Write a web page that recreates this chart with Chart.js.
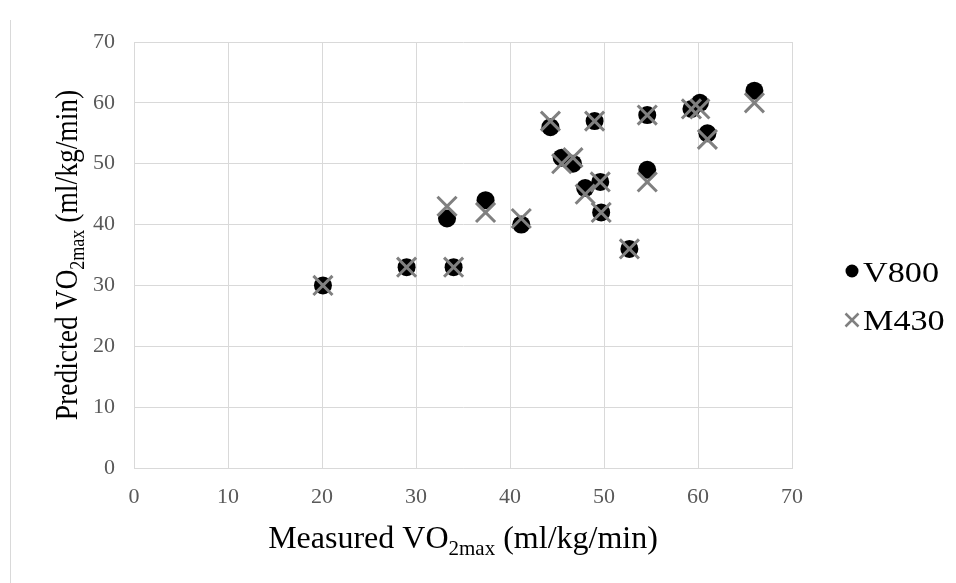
<!DOCTYPE html>
<html>
<head>
<meta charset="utf-8">
<script src="https://cdn.jsdelivr.net/npm/chart.js@4.4.0/dist/chart.umd.min.js"></script>
<style>
  html, body { margin: 0; padding: 0; background: #fff; }
  #wrap { position: relative; width: 956px; height: 583px; }
  #frame { position: absolute; left: 10px; top: 20px; width: 1px; height: 563px; background: #d9d9d9; }
  canvas { position: absolute; left: 0; top: 0; }
</style>
</head>
<body>
<div id="wrap">
  <div id="frame"></div>
  <canvas id="chart" width="956" height="583"></canvas>
</div>
<script>
// Measured VO2max vs predicted, two devices
const measured = [20.1, 29.0, 34.0, 33.3, 37.4, 41.2, 44.3, 45.5, 46.7, 48.0, 49.0, 49.6, 49.7, 52.7, 54.6, 54.6, 59.3, 60.2, 61.0, 66.0];
const v800     = [30, 33, 33, 41, 44, 40, 56, 51, 50, 46, 57, 47, 42, 36, 58, 49, 59, 60, 55, 62];
const m430     = [30, 33, 33, 43, 42, 41, 57, 50, 51, 45, 57, 47, 42, 36, 58, 47, 59, 59, 54, 60];
const seriesNames = ['V800', 'M430'];

const SERIF = "'Liberation Serif', 'Times New Roman', serif";
const GRID = '#d9d9d9';
const GREY_X = '#808080';

const toPoints = ys => ys.map((y, i) => ({ x: measured[i], y }));

// text with subscript pieces, centred on (0,0) of current transform
function drawParts(ctx, parts) {
  let total = 0;
  parts.forEach(p => { ctx.font = `${p.size}px ${SERIF}`; p.w = ctx.measureText(p.t).width; total += p.w; });
  let x = -total / 2;
  ctx.textBaseline = 'alphabetic';
  ctx.textAlign = 'left';
  parts.forEach(p => {
    ctx.font = `${p.size}px ${SERIF}`;
    ctx.fillText(p.t, x, p.dy);
    x += p.w;
  });
}

const titleParts = first => [
  { t: first + ' VO', size: 32, dy: 0 },
  { t: '2max', size: 21, dy: 7 },
  { t: ' (ml/kg/min)', size: 32, dy: 0 }
];

const titlesPlugin = {
  id: 'axisTitles',
  afterDraw(chart) {
    const ctx = chart.ctx;
    const area = chart.chartArea;
    ctx.save();
    ctx.fillStyle = '#000';
    // x title
    ctx.save();
    ctx.translate((area.left + area.right) / 2, 548);
    drawParts(ctx, titleParts('Measured'));
    ctx.restore();
    // y title (a bit squeezed along its length, like the original)
    ctx.save();
    ctx.translate(77, (area.top + area.bottom) / 2);
    ctx.scale(1, 0.86);
    ctx.rotate(-Math.PI / 2);
    drawParts(ctx, titleParts('Predicted'));
    ctx.restore();
    ctx.restore();
  }
};

const legendPlugin = {
  id: 'sideLegend',
  afterDraw(chart) {
    const ctx = chart.ctx;
    const mx = 852, marks = [271, 320], bases = [282, 330];
    ctx.save();
    // circle marker
    ctx.fillStyle = '#000';
    ctx.beginPath();
    ctx.arc(mx, marks[0], 6.5, 0, Math.PI * 2);
    ctx.fill();
    // cross marker
    ctx.strokeStyle = GREY_X;
    ctx.lineWidth = 2.5;
    ctx.beginPath();
    ctx.moveTo(mx - 6.5, marks[1] - 6.5); ctx.lineTo(mx + 6.5, marks[1] + 6.5);
    ctx.moveTo(mx + 6.5, marks[1] - 6.5); ctx.lineTo(mx - 6.5, marks[1] + 6.5);
    ctx.stroke();
    ctx.fillStyle = '#000';
    ctx.font = `30px ${SERIF}`;
    ctx.textBaseline = 'alphabetic';
    ctx.textAlign = 'left';
    seriesNames.forEach((n, i) => {
      ctx.save();
      ctx.translate(863, bases[i]);
      ctx.scale(1.14, 1);
      ctx.fillText(n, 0, 0);
      ctx.restore();
    });
    ctx.restore();
  }
};

const tickFont = { family: SERIF, size: 22 };

new Chart(document.getElementById('chart'), {
  type: 'scatter',
  data: {
    datasets: [
      {
        label: seriesNames[0],
        data: toPoints(v800),
        pointStyle: 'circle',
        pointRadius: 9,
        pointHoverRadius: 9,
        backgroundColor: '#000',
        borderColor: '#000',
        borderWidth: 0,
        order: 2
      },
      {
        label: seriesNames[1],
        data: toPoints(m430),
        pointStyle: 'crossRot',
        pointRadius: 13.5,
        pointHoverRadius: 13.5,
        backgroundColor: GREY_X,
        borderColor: GREY_X,
        borderWidth: 3,
        order: 1
      }
    ]
  },
  options: {
    responsive: false,
    animation: false,
    events: [],
    layout: { padding: { top: 42, right: 164, left: 0, bottom: 0 } },
    plugins: {
      legend: { display: false },
      tooltip: { enabled: false }
    },
    scales: {
      x: {
        type: 'linear',
        min: 0, max: 70,
        ticks: { stepSize: 10, color: '#595959', font: tickFont, padding: 16 },
        grid: { color: GRID, drawTicks: false },
        border: { color: GRID },
        afterFit: s => { s.height = 115; }
      },
      y: {
        type: 'linear',
        min: 0, max: 70,
        ticks: { stepSize: 10, color: '#595959', font: tickFont, padding: 19 },
        grid: { color: GRID, drawTicks: false },
        border: { color: GRID },
        afterFit: s => { s.width = 134; }
      }
    }
  },
  plugins: [titlesPlugin, legendPlugin]
});
</script>
</body>
</html>
